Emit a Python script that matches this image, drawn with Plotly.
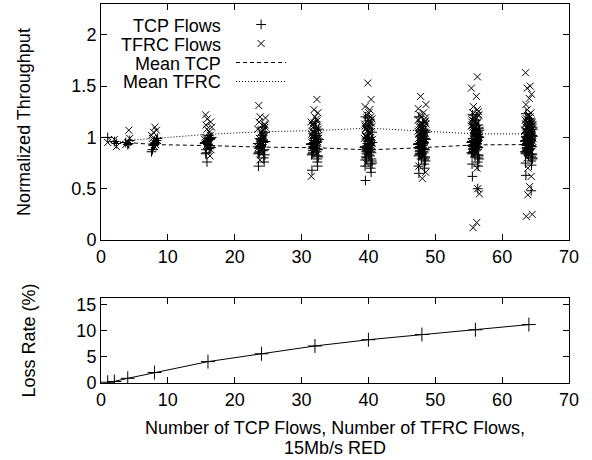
import plotly.graph_objects as go

# ---------------- data ----------------
N_FLOWS = [1, 2, 4, 8, 16, 24, 32, 40, 48, 56, 64]

# small horizontal offsets of the individual flows around each N
JITTER = [0.0, 0.3, -0.3, 0.15, -0.45, 0.45, -0.15, 0.05,
          0.35, -0.25, 0.55, -0.5, 0.2, -0.1, 0.4, -0.35,
          0.1, -0.55, 0.25, -0.05, 0.5, -0.2, 0.6, -0.4,
          0.15, -0.3, 0.35, -0.6, 0.0, 0.45, -0.15, 0.3,
          -0.45, 0.05, 0.55, -0.25, 0.2, -0.5, 0.4, -0.1,
          0.1, -0.35, 0.5, -0.05, 0.25, -0.55, 0.6, -0.2,
          0.35, -0.4, 0.0, 0.45, -0.3, 0.15, -0.6, 0.3,
          -0.15, 0.55, -0.45, 0.05, 0.4, -0.25, 0.2, -0.5]

TCP_N1 = [1.00]
TCP_N2 = [0.96, 0.94]
TCP_N4 = [0.93, 0.97, 0.95, 0.94]
TCP_N8 = [0.93, 0.97, 0.88, 0.95, 0.86, 0.99, 0.92, 0.94]
TCP_N16 = [0.93, 0.98, 0.88, 1.02, 0.95, 0.90, 0.76, 0.97, 0.92, 0.85, 1.00, 0.94,
           0.89, 0.96, 0.99, 0.84]
TCP_N24 = [0.91, 0.95, 0.86, 1.02, 0.72, 0.88, 0.99, 0.93, 0.80, 0.90, 1.05, 0.84,
           0.97, 0.92, 0.76, 0.89, 1.10, 0.94, 0.87, 0.98, 0.83, 0.91, 0.96, 0.85]
TCP_N32 = [0.90, 0.95, 0.85, 1.02, 0.68, 0.88, 0.97, 0.92, 0.79, 0.91, 1.08, 0.83,
           0.96, 0.93, 0.72, 0.89, 1.15, 0.94, 0.86, 0.99, 0.81, 0.90, 0.98, 0.84,
           1.04, 0.87, 0.76, 0.93, 1.00, 0.82, 0.95, 0.89]
TCP_N40 = [0.87, 0.92, 0.80, 0.98, 0.58, 0.85, 0.94, 0.89, 0.74, 0.88, 1.05, 0.78,
           0.93, 0.90, 0.66, 0.86, 1.12, 0.91, 0.82, 0.96, 0.77, 0.87, 0.95, 0.81,
           1.00, 0.84, 0.70, 0.90, 0.97, 0.79, 0.92, 0.86, 1.20, 0.83, 0.75, 0.89,
           0.94, 0.72, 0.88, 0.99]
TCP_N48 = [0.90, 0.95, 0.84, 1.01, 0.65, 0.88, 0.97, 0.92, 0.78, 0.91, 1.07, 0.82,
           0.96, 0.93, 0.70, 0.89, 1.15, 0.94, 0.86, 0.99, 0.80, 0.90, 0.98, 0.83,
           1.03, 0.87, 0.74, 0.93, 1.00, 0.81, 0.95, 0.89, 1.20, 0.85, 0.77, 0.91,
           0.96, 0.72, 0.88, 1.02, 0.92, 0.86, 0.99, 0.79, 0.94, 0.90, 1.05, 0.84]
TCP_N56 = [0.92, 0.97, 0.86, 1.03, 0.62, 0.90, 0.99, 0.94, 0.80, 0.93, 1.09, 0.84,
           0.98, 0.95, 0.72, 0.91, 1.17, 0.96, 0.88, 1.01, 0.82, 0.92, 1.00, 0.85,
           1.05, 0.89, 0.76, 0.95, 1.02, 0.83, 0.97, 0.91, 1.22, 0.87, 0.79, 0.93,
           0.98, 0.74, 0.90, 1.04, 0.94, 0.88, 1.01, 0.81, 0.96, 0.92, 1.07, 0.86,
           0.50, 0.99, 0.93, 1.12, 0.89, 0.97, 0.85, 1.03]
TCP_N64 = [0.93, 0.98, 0.87, 1.04, 0.63, 0.91, 1.00, 0.95, 0.81, 0.94, 1.10, 0.85,
           0.99, 0.96, 0.73, 0.92, 1.18, 0.97, 0.89, 1.02, 0.83, 0.93, 1.01, 0.86,
           1.06, 0.90, 0.77, 0.96, 1.03, 0.84, 0.98, 0.92, 1.23, 0.88, 0.80, 0.94,
           0.99, 0.75, 0.91, 1.05, 0.95, 0.89, 1.02, 0.82, 0.97, 0.93, 1.08, 0.87,
           0.48, 1.00, 0.94, 1.13, 0.90, 0.98, 0.86, 1.04, 0.96, 0.79, 1.01, 0.92,
           1.15, 0.88, 0.95, 0.84]

TFRC_N1 = [0.95]
TFRC_N2 = [0.91, 0.98]
TFRC_N4 = [1.07, 0.93, 0.99, 0.95]
TFRC_N8 = [1.10, 1.05, 0.97, 1.02, 0.93, 0.99, 1.07, 0.91]
TFRC_N16 = [1.22, 1.15, 1.18, 1.05, 0.98, 1.10, 0.92, 1.02, 0.95, 1.08, 0.88, 1.00,
            0.97, 1.12, 0.82, 0.90]
TFRC_N24 = [1.31, 1.19, 1.20, 1.12, 1.05, 0.98, 1.08, 0.93, 1.15, 1.01, 0.88, 1.03,
            0.96, 1.10, 0.78, 1.00, 1.06, 0.95, 1.13, 0.90, 1.02, 0.99, 1.07, 0.84]
TFRC_N32 = [1.37, 1.27, 1.24, 1.20, 1.15, 1.10, 1.05, 0.98, 1.12, 1.02, 0.92, 1.08,
            0.95, 1.18, 0.62, 1.00, 1.06, 0.96, 1.14, 0.88, 1.03, 0.99, 1.09, 0.85,
            1.04, 1.11, 0.94, 1.01, 1.07, 0.90, 1.16, 0.97]
TFRC_N40 = [1.53, 1.37, 1.30, 1.27, 1.22, 1.18, 1.10, 1.02, 1.15, 1.06, 0.95, 1.12,
            0.99, 1.20, 0.75, 1.04, 1.09, 0.98, 1.16, 0.92, 1.07, 1.03, 1.13, 0.89,
            1.08, 1.14, 0.97, 1.05, 1.11, 0.94, 1.19, 1.00, 1.24, 0.86, 1.10, 1.01,
            1.06, 0.83, 1.17, 0.96]
TFRC_N48 = [1.40, 1.32, 1.28, 1.24, 1.20, 1.16, 1.10, 1.02, 1.14, 1.05, 0.93, 1.12,
            0.98, 1.19, 0.60, 1.03, 1.08, 0.97, 1.15, 0.90, 1.06, 1.01, 1.11, 0.86,
            1.07, 1.13, 0.95, 1.04, 1.09, 0.92, 1.17, 0.99, 1.22, 0.82, 1.06, 1.00,
            1.04, 0.66, 1.13, 0.96, 1.08, 0.94, 1.02, 0.72, 1.10, 0.98, 1.05, 0.88]
TFRC_N56 = [1.59, 1.48, 1.40, 1.30, 1.25, 1.20, 1.12, 1.04, 1.16, 1.07, 0.95, 1.14,
            1.00, 1.22, 0.12, 1.05, 1.10, 0.99, 1.17, 0.92, 1.08, 1.03, 1.13, 0.88,
            1.09, 1.15, 0.97, 1.06, 1.11, 0.94, 1.19, 1.01, 1.24, 0.45, 1.08, 1.02,
            1.06, 0.70, 1.15, 0.98, 1.10, 0.96, 1.04, 0.17, 1.12, 1.00, 1.07, 0.50,
            1.18, 1.03, 1.21, 0.90, 1.13, 1.05, 1.27, 0.86]
TFRC_N64 = [1.63, 1.50, 1.48, 1.42, 1.38, 1.32, 1.12, 1.04, 1.16, 1.07, 0.95, 1.14,
            1.00, 1.22, 0.23, 1.05, 1.10, 0.99, 1.17, 0.92, 1.08, 1.03, 1.13, 0.88,
            1.09, 1.15, 0.97, 1.06, 1.11, 0.94, 1.19, 1.01, 1.24, 0.44, 1.08, 1.02,
            1.06, 0.62, 1.15, 0.98, 1.10, 0.96, 1.04, 0.25, 1.12, 1.00, 1.07, 0.52,
            1.18, 1.03, 1.21, 0.90, 1.13, 1.05, 1.27, 0.86, 1.09, 0.70, 1.14, 1.02,
            1.20, 0.80, 1.11, 0.99]

MEAN_TCP = [1.00, 0.95, 0.95, 0.93, 0.92, 0.905, 0.90, 0.878, 0.90, 0.927, 0.93]
MEAN_TFRC = [0.95, 0.95, 0.97, 0.99, 1.03, 1.055, 1.066, 1.09, 1.063, 1.034, 1.034]
LOSS_RATE = [0.15, 0.3, 0.9, 2.0, 4.1, 5.6, 7.1, 8.3, 9.3, 10.2, 11.2]

TCP_GROUPS = [TCP_N1, TCP_N2, TCP_N4, TCP_N8, TCP_N16, TCP_N24, TCP_N32,
              TCP_N40, TCP_N48, TCP_N56, TCP_N64]
TFRC_GROUPS = [TFRC_N1, TFRC_N2, TFRC_N4, TFRC_N8, TFRC_N16, TFRC_N24, TFRC_N32,
               TFRC_N40, TFRC_N48, TFRC_N56, TFRC_N64]

tcp_x, tcp_y, tfrc_x, tfrc_y = [], [], [], []
for n, tcp, tfrc in zip(N_FLOWS, TCP_GROUPS, TFRC_GROUPS):
    offs = JITTER[:len(tcp)]
    tcp_x += [n + o for o in offs]
    tcp_y += tcp
    offs_r = JITTER[:len(tfrc)][::-1]
    tfrc_x += [n + o for o in offs_r]
    tfrc_y += tfrc

FONT = "Liberation Sans, Arial, Helvetica, sans-serif"
BLACK = "black"

fig = go.Figure()
fig.add_trace(go.Scatter(x=tcp_x, y=tcp_y, mode="markers", name=" ",
                         marker=dict(symbol="cross-thin-open", size=7,
                                     line=dict(width=1, color=BLACK), color=BLACK),
                         xaxis="x", yaxis="y"))
fig.add_trace(go.Scatter(x=tfrc_x, y=tfrc_y, mode="markers", name=" ",
                         marker=dict(symbol="x-thin-open", size=7,
                                     line=dict(width=1, color=BLACK), color=BLACK),
                         xaxis="x", yaxis="y"))
fig.add_trace(go.Scatter(x=N_FLOWS, y=MEAN_TCP, mode="lines", name=" ",
                         line=dict(color=BLACK, width=1, dash="4px,3px"),
                         xaxis="x", yaxis="y"))
fig.add_trace(go.Scatter(x=N_FLOWS, y=MEAN_TFRC, mode="lines", name=" ",
                         line=dict(color=BLACK, width=1, dash="1px,2px"),
                         xaxis="x", yaxis="y"))
fig.add_trace(go.Scatter(x=N_FLOWS, y=LOSS_RATE, mode="lines+markers",
                         name="Loss Rate", showlegend=False,
                         line=dict(color=BLACK, width=1),
                         marker=dict(symbol="cross-thin-open", size=10,
                                     line=dict(width=1, color=BLACK), color=BLACK),
                         xaxis="x2", yaxis="y2"))

axis_common = dict(showline=True, linecolor=BLACK, linewidth=1, mirror="ticks",
                   ticks="inside", ticklen=6, tickcolor=BLACK, tickwidth=1,
                   showgrid=False, zeroline=False, automargin=False,
                   tickfont=dict(size=18, color=BLACK, family=FONT))

TOP_DOMAIN = [0.3773, 1.0]
BOT_DOMAIN = [0.0, 0.2243]

fig.update_layout(
    width=592, height=460,
    margin=dict(l=101, r=23, t=4, b=77),
    paper_bgcolor="white", plot_bgcolor="white",
    font=dict(family=FONT, size=18, color=BLACK),
    xaxis=dict(axis_common, range=[0, 70], dtick=10, tick0=0, anchor="y",
               domain=[0, 1]),
    yaxis=dict(axis_common, range=[0, 2.3], dtick=0.5, tick0=0, anchor="x",
               domain=TOP_DOMAIN,
               title=dict(text="Normalized Throughput", standoff=36,
                          font=dict(size=18, color=BLACK, family=FONT))),
    xaxis2=dict(axis_common, range=[0, 70], dtick=10, tick0=0, anchor="y2",
                domain=[0, 1],
                title=dict(text="Number of TCP Flows, Number of TFRC Flows,",
                           standoff=12, font=dict(size=18, color=BLACK, family=FONT))),
    yaxis2=dict(axis_common, range=[0, 16.3], dtick=5, tick0=0, anchor="x2",
                domain=BOT_DOMAIN,
                title=dict(text="Loss Rate (%)", standoff=36,
                           font=dict(size=18, color=BLACK, family=FONT))),
    legend=dict(x=0.278, y=(383 - 10) / 379, xanchor="left", yanchor="top",
                bgcolor="rgba(0,0,0,0)", borderwidth=0, itemwidth=50,
                font=dict(size=12, color=BLACK, family=FONT), tracegroupgap=0),
    showlegend=True,
)

# second line of the x-axis title
fig.add_annotation(text="15Mb/s RED", xref="paper", yref="paper", x=0.5,
                   y=(383 - 448) / 379, xanchor="center", yanchor="middle",
                   showarrow=False, font=dict(size=18, color=BLACK, family=FONT))

LEGEND_LABELS = ["TCP Flows", "TFRC Flows", "Mean TCP", "Mean TFRC"]
LEGEND_LABEL_PX = [26, 45, 64, 82.5]
for lab, py in zip(LEGEND_LABELS, LEGEND_LABEL_PX):
    fig.add_annotation(text=lab, xref="paper", yref="paper", x=(223 - 101) / 468,
                       y=(383 - py) / 379,
                       xanchor="right", yanchor="middle", showarrow=False,
                       font=dict(size=18, color=BLACK, family=FONT))

fig.write_html("out.html",
               config={"displayModeBar": False},
               post_script="document.body.style.margin='0px';"
                           "document.body.style.padding='0px';")
